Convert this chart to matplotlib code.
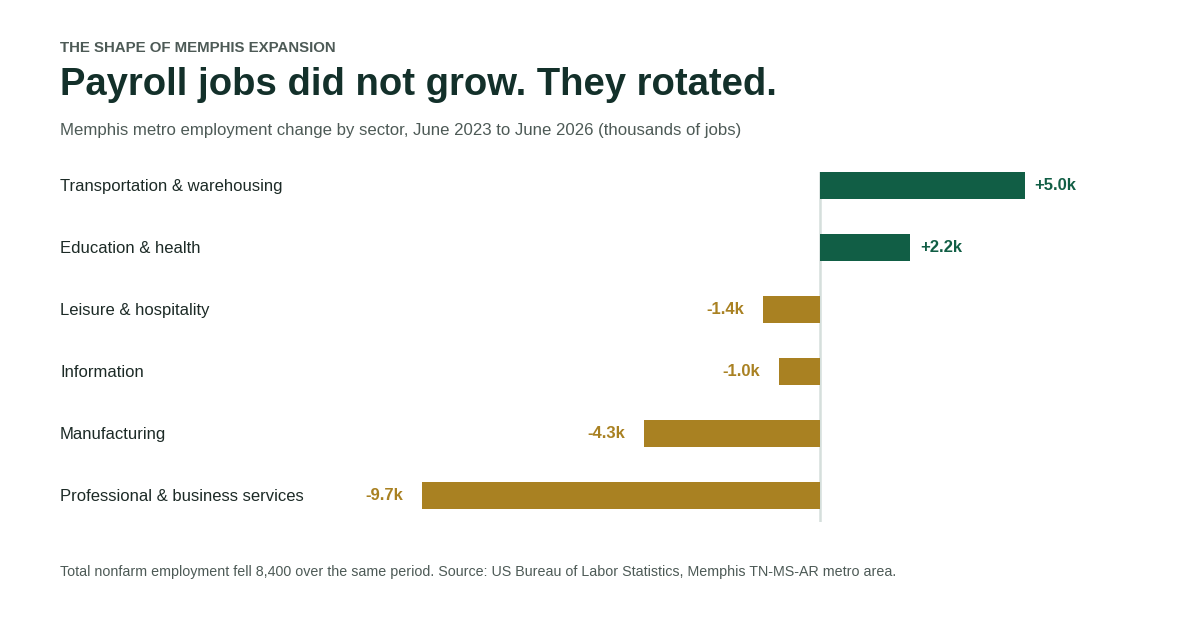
"""
Memphis metro employment change by sector: diverging horizontal bar chart.
"""

import matplotlib.pyplot as plt
import matplotlib.transforms as mtransforms

plt.rcParams["font.family"] = ["Liberation Sans", "DejaVu Sans"]

sectors = [
    "Transportation & warehousing",
    "Education & health",
    "Leisure & hospitality",
    "Information",
    "Manufacturing",
    "Professional & business services",
]
change_k = [5.0, 2.2, -1.4, -1.0, -4.3, -9.7]

GREEN = "#115e45"
GOLD = "#a98122"
INK = "#13302a"
MUTED = "#4d5a56"
ZERO_LINE = "#d5dfdc"

W, H = 1200, 620
fig = plt.figure(figsize=(W / 100, H / 100), dpi=100)
fig.patch.set_facecolor("white")

# axes placed in pixel terms: zero at x=820, ~41 px per thousand jobs
ax_left, ax_right = 330, 1100
ax_top, ax_bot = 172, 522
ax = fig.add_axes([ax_left / W, 1 - ax_bot / H, (ax_right - ax_left) / W, (ax_bot - ax_top) / H])
px_per_unit = 41.0
ax.set_xlim(-(820 - ax_left) / px_per_unit, (ax_right - 820) / px_per_unit)
ax.set_ylim(5.435, -0.21)
ax.axis("off")

ys = list(range(len(sectors)))
colors = [GREEN if v > 0 else GOLD for v in change_k]
ax.barh(ys, change_k, height=0.435, color=colors, zorder=2)
ax.axvline(0, color=ZERO_LINE, lw=1.8, zorder=1)

for y, v in zip(ys, change_k):
    if v > 0:
        ax.annotate(f"+{v:.1f}k", xy=(v, y), xytext=(7, 0), textcoords="offset points",
                    ha="left", va="center", fontsize=12, fontweight="bold", color=GREEN)
    else:
        ax.annotate(f"{v:.1f}k", xy=(v, y), xytext=(-13.5, 0), textcoords="offset points",
                    ha="right", va="center", fontsize=12, fontweight="bold", color=GOLD)

# category labels, left aligned at the figure margin
lab_tr = mtransforms.blended_transform_factory(fig.transFigure, ax.transData)
for y, name in zip(ys, sectors):
    ax.text(60 / W, y + 0.02, name, transform=lab_tr, ha="left", va="center",
            fontsize=12, color="#1c2a26")

# --- Header and footer ---
fig.text(60 / W, 1 - 48 / H, "THE SHAPE OF MEMPHIS EXPANSION", ha="left", va="center",
         fontsize=10.8, fontweight="bold", color=MUTED)
fig.text(60 / W, 1 - 85 / H, "Payroll jobs did not grow. They rotated.", ha="left", va="center",
         fontsize=27.5, fontweight="bold", color=INK)
fig.text(60 / W, 1 - 130 / H,
         "Memphis metro employment change by sector, June 2023 to June 2026 (thousands of jobs)",
         ha="left", va="center", fontsize=12.1, color=MUTED)
fig.text(60 / W, 1 - 572 / H,
         "Total nonfarm employment fell 8,400 over the same period. Source: US Bureau of Labor "
         "Statistics, Memphis TN-MS-AR metro area.",
         ha="left", va="center", fontsize=10.25, color=MUTED)

fig.savefig("out.png", dpi=100, facecolor="white")
